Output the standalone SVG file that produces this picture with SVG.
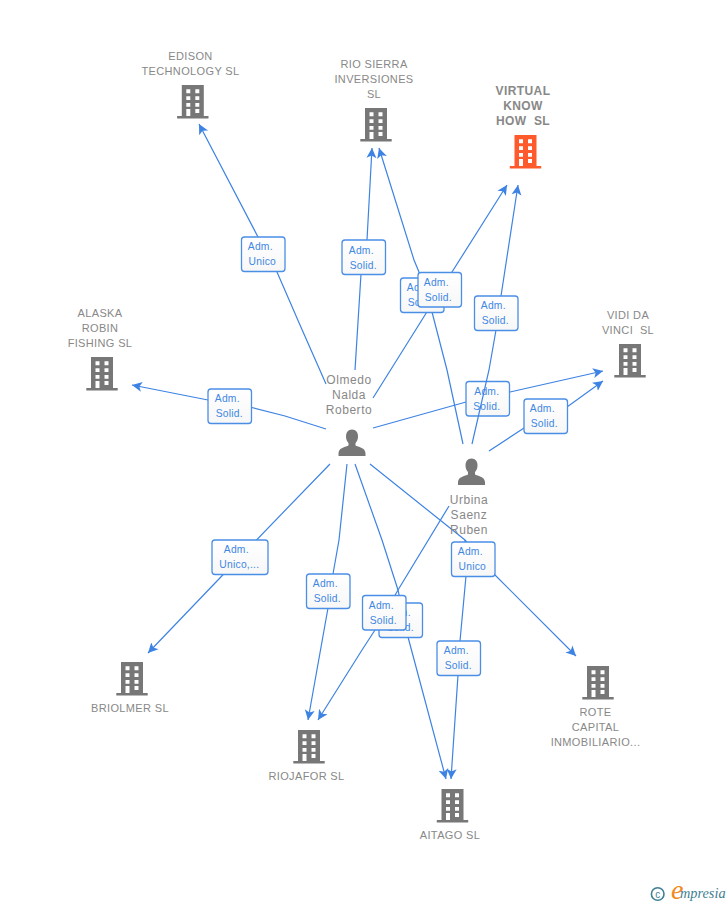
<svg xmlns="http://www.w3.org/2000/svg" width="728" height="905" viewBox="0 0 728 905">
<style>
.e{fill:none;stroke:#3d83e3;stroke-width:1.2;marker-end:url(#a)}
.b{fill:url(#g);stroke:#4a8ee6;stroke-width:1.3}
.l{font:10.3px "Liberation Sans",Arial,sans-serif;fill:#4087e4;letter-spacing:.25px;text-anchor:middle;transform:translate(-.7px,-.6px)}
.n{font:11px "Liberation Sans",Arial,sans-serif;fill:#888;letter-spacing:.36px;text-anchor:middle;white-space:pre}
.h{font:bold 12px "Liberation Sans",Arial,sans-serif;fill:#888;letter-spacing:.4px;text-anchor:middle;white-space:pre}
.p{font:12px "Liberation Sans",Arial,sans-serif;fill:#888;letter-spacing:.55px;text-anchor:middle}
</style>
<defs>
<linearGradient id="g" x1="0" y1="0" x2="0" y2="1"><stop offset="0" stop-color="#fff"/><stop offset="1" stop-color="#f7f7f7"/></linearGradient>
<marker id="a" markerUnits="userSpaceOnUse" markerWidth="12" markerHeight="12" refX="10" refY="5" orient="auto" viewBox="0 0 12 10"><path d="M0 0L10 5L0 10L2.5 5Z" fill="#3d83e3"/></marker>
<path id="bd" fill-rule="evenodd" d="M-11-17H11V14H15.700V16.500H-15.700V14H-11ZM-6.500-12.700V-8.700H-2.500V-12.700ZM2.500-12.700V-8.700H6.500V-12.700ZM-6.500-5.700V-2H-2.500V-5.700ZM2.500-5.700V-2H6.500V-5.700ZM-6.500 1V4.700H-2.500V1ZM2.500 1V4.700H6.500V1ZM-6.500 7V14H-2.500V7ZM2.500 7V11H6.500V7Z"/>
<path id="pr" d="M0-14C4-14 6-11 6-7C6-4 5-2 3.500-.5V2C8 4 13.500 4.500 13.500 10V12.500H-13.500V10C-13.500 4.500-8 4-3.500 2V-.5C-5-2-6-4-6-7C-6-11-4-14 0-14Z"/>
</defs>
<rect width="728" height="905" fill="#fff"/>
<g id="connectors">
<path class="e" d="M326 384L300 325L277 272L258 237L199 124"/>
<path class="e" d="M355 370L361 274L367 240L372 148"/>
<path class="e" d="M463 444L447 370L432 312L419 272L414 260L379 148"/>
<path class="e" d="M373 398L430 307L452 272L507 185"/>
<path class="e" d="M326 429L285 416L250 407L208 400L132 385"/>
<path class="e" d="M373 428L466 402L510 392L603 371"/>
<path class="e" d="M489 451L524 428L567 407L603 381"/>
<path class="e" d="M330 464L240 557L148 653"/>
<path class="e" d="M347 464L339 540L333 574L328 608L308 720"/>
<path class="e" d="M355 464L382 540L398 590L408 637L446 779"/>
<path class="e" d="M449 506L398 590L375 630L362 650L318 720"/>
<path class="e" d="M465 540L466 576L460 641L458 675L451 779"/>
<path class="e" d="M370 464L465 540L495 575L576 656"/>
<g id="label-vidi-1"><rect class="b" x="466" y="381.500" width="43.500" height="34.500" rx="3"/><text class="l" x="487.500" y="396">Adm.</text><text class="l" x="487.500" y="411">Solid.</text></g>
<path class="e" d="M472 444L489 370L496 330L501 296L518 185"/>
<g id="label-edison"><rect class="b" x="241.500" y="237" width="43.500" height="34.500" rx="3"/><text class="l" x="261" y="251">Adm.</text><text class="l" x="263" y="266">Unico</text></g>
<g id="label-rio-1"><rect class="b" x="342" y="240" width="43.500" height="34.500" rx="3"/><text class="l" x="362" y="255">Adm.</text><text class="l" x="364" y="270">Solid.</text></g>
<g id="label-virtual-1"><rect class="b" x="400.500" y="278" width="43.500" height="34.500" rx="3"/><text class="l" x="420" y="292">Adm.</text><text class="l" x="422" y="307">Solid.</text></g>
<g id="label-rio-2"><rect class="b" x="418" y="272.500" width="43.500" height="34.500" rx="3"/><text class="l" x="437" y="287">Adm.</text><text class="l" x="439" y="302">Solid.</text></g>
<g id="label-virtual-2"><rect class="b" x="474.500" y="296" width="43.500" height="34.500" rx="3"/><text class="l" x="494" y="310">Adm.</text><text class="l" x="496" y="325">Solid.</text></g>
<g id="label-alaska"><rect class="b" x="208" y="389" width="43.500" height="34.500" rx="3"/><text class="l" x="228" y="403">Adm.</text><text class="l" x="230" y="418">Solid.</text></g>
<g id="label-vidi-2"><rect class="b" x="524" y="399" width="43.500" height="34.500" rx="3"/><text class="l" x="543" y="413">Adm.</text><text class="l" x="545" y="428">Solid.</text></g>
<g id="label-briolmer"><rect class="b" x="212" y="540" width="56" height="34.500" rx="3"/><text class="l" x="237" y="554">Adm.</text><text class="l" x="240" y="569">Unico,...</text></g>
<g id="label-riojafor-1"><rect class="b" x="306.500" y="574" width="43.500" height="34.500" rx="3"/><text class="l" x="326" y="588">Adm.</text><text class="l" x="328" y="603">Solid.</text></g>
<g id="label-aitago-1"><rect class="b" x="379" y="603" width="43.500" height="34.500" rx="3"/><text class="l" x="399" y="617">Adm.</text><text class="l" x="401" y="632">Solid.</text></g>
<g id="label-riojafor-2"><rect class="b" x="362.500" y="595.500" width="43.500" height="34.500" rx="3"/><text class="l" x="382" y="610">Adm.</text><text class="l" x="384" y="625">Solid.</text></g>
<g id="label-rote"><rect class="b" x="451.500" y="542" width="43.500" height="34.500" rx="3"/><text class="l" x="471" y="556">Adm.</text><text class="l" x="473" y="571">Unico</text></g>
<g id="label-aitago-2"><rect class="b" x="437" y="641" width="43.500" height="34.500" rx="3"/><text class="l" x="457" y="655">Adm.</text><text class="l" x="459" y="670">Solid.</text></g>
</g>
<g id="edison"><text class="n" x="190.500" y="60">EDISON</text><text class="n" x="190.500" y="75">TECHNOLOGY SL</text><use href="#bd" x="192.800" y="102" fill="#777"/></g>
<g id="rio"><text class="n" x="374" y="68">RIO SIERRA</text><text class="n" x="374" y="83">INVERSIONES</text><text class="n" x="374" y="98">SL</text><use href="#bd" x="376" y="125" fill="#777"/></g>
<g id="virtual"><text class="h" x="523" y="95">VIRTUAL</text><text class="h" x="523" y="110">KNOW</text><text class="h" x="523" y="125">HOW  SL</text><use href="#bd" x="525.500" y="152" fill="#ff5a2c"/></g>
<g id="vidi"><text class="n" x="628" y="319">VIDI DA</text><text class="n" x="628" y="334">VINCI  SL</text><use href="#bd" x="630" y="361" fill="#777"/></g>
<g id="alaska"><text class="n" x="100" y="317">ALASKA</text><text class="n" x="100" y="332">ROBIN</text><text class="n" x="100" y="347">FISHING SL</text><use href="#bd" x="102" y="374" fill="#777"/></g>
<g id="briolmer"><use href="#bd" x="132" y="679" fill="#777"/><text class="n" x="130" y="712">BRIOLMER SL</text></g>
<g id="riojafor"><use href="#bd" x="309" y="747" fill="#777"/><text class="n" x="306.500" y="780">RIOJAFOR SL</text></g>
<g id="aitago"><use href="#bd" x="452.500" y="806" fill="#777"/><text class="n" x="450" y="839">AITAGO SL</text></g>
<g id="rote-capital"><use href="#bd" x="598" y="683" fill="#777"/><text class="n" x="595.500" y="716">ROTE</text><text class="n" x="595.500" y="731">CAPITAL</text><text class="n" x="595.500" y="746">INMOBILIARIO...</text></g>
<g id="olmedo"><text class="p" x="349" y="384">Olmedo</text><text class="p" x="349" y="399">Nalda</text><text class="p" x="349" y="414">Roberto</text><use href="#pr" x="352" y="443.500" fill="#777"/></g>
<g id="urbina"><use href="#pr" x="471.500" y="472.500" fill="#777"/><text class="p" x="469" y="504">Urbina</text><text class="p" x="469" y="519">Saenz</text><text class="p" x="469" y="534">Ruben</text></g>
<g id="logo"><circle cx="657.700" cy="894" r="6.300" fill="none" stroke="#3f7f93" stroke-width="1.600"/><text x="657.700" y="897.500" font-family="Liberation Sans,sans-serif" font-size="10" fill="#3f7f93" text-anchor="middle">c</text><text x="671" y="899" font-family="Liberation Serif,serif" font-style="italic" font-size="28" fill="#f08a24">e</text><text x="680" y="898" font-family="Liberation Serif,serif" font-style="italic" font-size="14.300" fill="#3f7f93">mpresia</text></g>
</svg>
